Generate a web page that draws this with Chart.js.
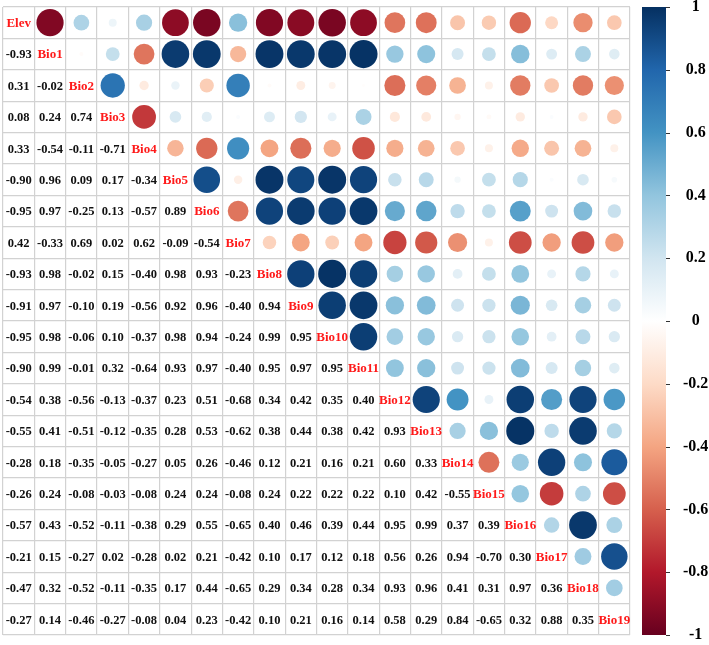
<!DOCTYPE html>
<html>
<head>
<meta charset="utf-8">
<script src="https://cdn.jsdelivr.net/npm/chart.js@4.4.1/dist/chart.umd.min.js"></script>
<style>
  html, body { margin: 0; padding: 0; background: #fff; }
</style>
</head>
<body>
<canvas id="corrChart" width="709" height="645"></canvas>
<script>
// variable names (diagonal labels)
const variables = ['Elev', 'Bio1', 'Bio2', 'Bio3', 'Bio4', 'Bio5', 'Bio6', 'Bio7', 'Bio8', 'Bio9',
    'Bio10', 'Bio11', 'Bio12', 'Bio13', 'Bio14', 'Bio15', 'Bio16', 'Bio17', 'Bio18', 'Bio19'];

// lower triangle of the correlation matrix, row by row
const corrRows = [
    [],
    [-0.93],
    [0.31, -0.02],
    [0.08, 0.24, 0.74],
    [0.33, -0.54, -0.11, -0.71],
    [-0.90, 0.96, 0.09, 0.17, -0.34],
    [-0.95, 0.97, -0.25, 0.13, -0.57, 0.89],
    [0.42, -0.33, 0.69, 0.02, 0.62, -0.09, -0.54],
    [-0.93, 0.98, -0.02, 0.15, -0.40, 0.98, 0.93, -0.23],
    [-0.91, 0.97, -0.10, 0.19, -0.56, 0.92, 0.96, -0.40, 0.94],
    [-0.95, 0.98, -0.06, 0.10, -0.37, 0.98, 0.94, -0.24, 0.99, 0.95],
    [-0.90, 0.99, -0.01, 0.32, -0.64, 0.93, 0.97, -0.40, 0.95, 0.97, 0.95],
    [-0.54, 0.38, -0.56, -0.13, -0.37, 0.23, 0.51, -0.68, 0.34, 0.42, 0.35, 0.40],
    [-0.55, 0.41, -0.51, -0.12, -0.35, 0.28, 0.53, -0.62, 0.38, 0.44, 0.38, 0.42, 0.93],
    [-0.28, 0.18, -0.35, -0.05, -0.27, 0.05, 0.26, -0.46, 0.12, 0.21, 0.16, 0.21, 0.60, 0.33],
    [-0.26, 0.24, -0.08, -0.03, -0.08, 0.24, 0.24, -0.08, 0.24, 0.22, 0.22, 0.22, 0.10, 0.42, -0.55],
    [-0.57, 0.43, -0.52, -0.11, -0.38, 0.29, 0.55, -0.65, 0.40, 0.46, 0.39, 0.44, 0.95, 0.99, 0.37, 0.39],
    [-0.21, 0.15, -0.27, 0.02, -0.28, 0.02, 0.21, -0.42, 0.10, 0.17, 0.12, 0.18, 0.56, 0.26, 0.94, -0.70, 0.30],
    [-0.47, 0.32, -0.52, -0.11, -0.35, 0.17, 0.44, -0.65, 0.29, 0.34, 0.28, 0.34, 0.93, 0.96, 0.41, 0.31, 0.97, 0.36],
    [-0.27, 0.14, -0.46, -0.27, -0.08, 0.04, 0.23, -0.42, 0.10, 0.21, 0.16, 0.14, 0.58, 0.29, 0.84, -0.65, 0.32, 0.88, 0.35]
];

// colour legend ticks
const legendTicks = [-1, -0.8, -0.6, -0.4, -0.2, 0, 0.2, 0.4, 0.6, 0.8, 1];

// RdBu palette, from -1 to 1
const palette = ['#67001F', '#B2182B', '#D6604D', '#F4A582', '#FDDBC7', '#FFFFFF',
    '#D1E5F0', '#92C5DE', '#4393C3', '#2166AC', '#053061'];

function hexToRgb(h) {
    return [parseInt(h.slice(1, 3), 16), parseInt(h.slice(3, 5), 16), parseInt(h.slice(5, 7), 16)];
}

function corrColor(v) {
    const t = (v + 1) / 2 * (palette.length - 1);
    const k = Math.min(Math.floor(t), palette.length - 2);
    const f = t - k;
    const a = hexToRgb(palette[k]);
    const b = hexToRgb(palette[k + 1]);
    const c = a.map((x, i) => Math.round(x + (b[i] - x) * f));
    return 'rgb(' + c.join(',') + ')';
}

// circles for the upper triangle
const circlePoints = [];
for (let i = 0; i < variables.length; i++) {
    for (let j = i + 1; j < variables.length; j++) {
        circlePoints.push({ x: j + 0.5, y: i + 0.5, v: corrRows[j][i] });
    }
}

function cellSize(chart) {
    const s = chart.scales.x;
    return s.getPixelForValue(1) - s.getPixelForValue(0);
}

// numbers, diagonal labels and the colour bar
const corrTextPlugin = {
    id: 'corrText',
    afterDatasetsDraw(chart) {
        const ctx = chart.ctx;
        const xs = chart.scales.x, ys = chart.scales.y;
        ctx.save();
        ctx.textAlign = 'center';
        ctx.textBaseline = 'middle';
        for (let i = 0; i < variables.length; i++) {
            const py = ys.getPixelForValue(i + 0.5);
            for (let j = 0; j < i; j++) {
                ctx.font = 'bold 12.5px "Liberation Serif", serif';
                ctx.fillStyle = '#111';
                ctx.fillText(corrRows[i][j].toFixed(2), xs.getPixelForValue(j + 0.5), py + 1);
            }
            ctx.font = 'bold 13px "Liberation Serif", serif';
            ctx.fillStyle = '#ff1a1a';
            ctx.fillText(variables[i], xs.getPixelForValue(i + 0.5), py + 1);
        }

        // colour bar
        const cb = chart.scales.cb;
        const top = cb.getPixelForValue(1);
        const bottom = cb.getPixelForValue(-1);
        const x0 = chart.chartArea.right + 12;
        const w = 24;
        const grad = ctx.createLinearGradient(0, bottom, 0, top);
        palette.forEach((c, k) => grad.addColorStop(k / (palette.length - 1), c));
        ctx.fillStyle = grad;
        ctx.fillRect(x0, top, w, bottom - top);
        ctx.strokeStyle = '#333';
        ctx.lineWidth = 1;
        legendTicks.forEach(t => {
            const y = Math.round(cb.getPixelForValue(t)) + 0.5;
            ctx.beginPath();
            ctx.moveTo(x0 + w, y);
            ctx.lineTo(x0 + w + 4, y);
            ctx.stroke();
        });
        ctx.restore();
    }
};

const gridOpts = { color: '#d2d2d2', lineWidth: 1.2, drawTicks: false };

new Chart(document.getElementById('corrChart'), {
    type: 'scatter',
    data: {
        datasets: [{
            data: circlePoints,
            pointRadius: c => 0.45 * cellSize(c.chart) * Math.sqrt(Math.abs(c.raw.v)),
            backgroundColor: c => corrColor(c.raw.v),
            borderColor: c => corrColor(c.raw.v),
            borderWidth: 0
        }]
    },
    options: {
        responsive: false,
        animation: false,
        events: [],
        layout: { padding: { left: 3, top: 7, right: 0, bottom: 10 } },
        plugins: { legend: { display: false }, tooltip: { enabled: false } },
        scales: {
            x: {
                type: 'linear', min: 0, max: variables.length,
                ticks: { display: false, stepSize: 1 },
                grid: gridOpts, border: { display: false }
            },
            y: {
                type: 'linear', min: 0, max: variables.length, reverse: true,
                ticks: { display: false, stepSize: 1 },
                grid: gridOpts, border: { display: false }
            },
            cb: {
                type: 'linear', position: 'right', min: -1, max: 1,
                afterBuildTicks: s => { s.ticks = legendTicks.map(v => ({ value: v })); },
                afterFit: s => { s.width = 79; s.paddingTop = 0; s.paddingBottom = 0; },
                ticks: {
                    padding: 45, crossAlign: 'center', color: '#000',
                    font: { family: '"Liberation Serif", serif', weight: 'bold', size: 16 },
                    callback: v => String(Math.round(v * 10) / 10 || 0)
                },
                grid: { display: false }, border: { display: false }
            }
        }
    },
    plugins: [corrTextPlugin]
});
</script>
</body>
</html>
